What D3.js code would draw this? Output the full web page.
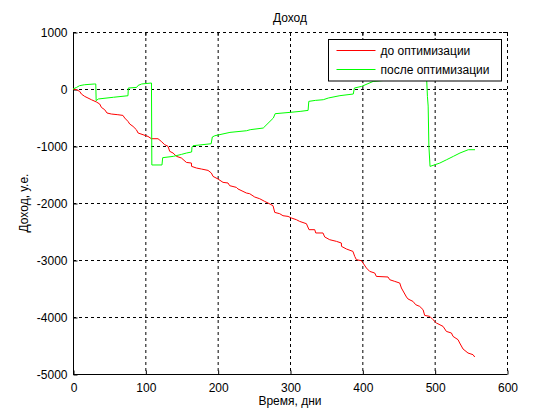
<!DOCTYPE html>
<html>
<head>
<meta charset="utf-8">
<script src="https://cdn.jsdelivr.net/npm/d3@7"></script>
<style>
  body { margin: 0; background: #fff; }
  text { font-family: "Liberation Sans", Arial, sans-serif; font-size: 12px; fill: #000; }
</style>
</head>
<body>
<div id="chart"></div>
<script>
// days / income
const beforeDays = [0, 4.6, 9.3, 11.6, 16.2, 20.7, 25.4, 32.4, 36.9, 39.3, 43.8, 47, 53, 62, 69, 71.5, 76, 78.4, 83, 87.6, 90, 96.8, 103.7, 108.4, 117.5, 122, 126.8, 131.4, 133.7, 138.3, 143, 149.9, 156.8, 163.7, 163.9, 170.6, 177.5, 186.7, 191.3, 193.6, 200.5, 207.4, 214.3, 216.6, 225.9, 228.1, 235, 239.7, 244.3, 251.2, 258.1, 265, 269.6, 276.5, 278.9, 285.8, 290.3, 297.3, 301.9, 308.8, 313.4, 322.7, 326.3, 334.2, 335.6, 345.6, 348, 354.9, 364.2, 371, 371.2, 378, 387, 389.5, 391.8, 398.7, 401, 405.6, 410.2, 417.1, 419.4, 435.5, 437.9, 444.8, 451.7, 454, 461, 463.2, 470, 473.8, 479.3, 484, 486.2, 493.2, 497.7, 502.4, 511.6, 516.2, 523.2, 525.4, 532.3, 534.6, 539.2, 546.1, 553, 555.4];
const beforeIncome = [0, -12, -42, -88, -130, -158, -188, -228, -263, -323, -363, -421, -439, -451, -463, -509, -568, -614, -656, -714, -772, -802, -832, -872, -872, -919, -977, -1006, -1094, -1123, -1181, -1211, -1288, -1299, -1357, -1386, -1404, -1428, -1474, -1533, -1579, -1638, -1649, -1696, -1726, -1754, -1796, -1825, -1837, -1895, -1925, -1972, -2000, -2047, -2165, -2188, -2223, -2235, -2263, -2293, -2323, -2363, -2468, -2468, -2526, -2526, -2596, -2644, -2673, -2702, -2761, -2807, -2849, -2937, -2995, -3012, -3053, -3140, -3200, -3228, -3288, -3298, -3346, -3375, -3404, -3491, -3649, -3684, -3726, -3784, -3814, -3872, -3972, -3989, -4047, -4105, -4165, -4253, -4281, -4340, -4398, -4456, -4561, -4632, -4661, -4702];

const afterDays = [0, 5, 9, 16, 30, 31.5, 32, 35, 56, 76, 76.5, 88, 90, 95, 108.5, 109, 123, 124, 138.6, 150, 157, 164, 164.5, 166, 191, 192.6, 196, 217, 240, 245, 263, 277, 279.5, 300, 314, 325, 326, 335, 346, 353, 369, 387.5, 389, 399, 415, 430, 450, 470, 488, 489, 490, 491, 492, 493.6, 500.5, 507, 516.6, 525.8, 535, 546.5, 555.8];
const afterIncome = [0, 28, 58, 75, 88, 88, -205, -175, -145, -118, 17, 28, 63, 88, 105, -1333, -1333, -1205, -1182, -1147, -1123, -1105, -1018, -995, -960, -842, -820, -761, -732, -714, -685, -509, -433, -410, -393, -375, -217, -200, -188, -158, -117, -88, 17, 46, 133, 150, 165, 180, 190, 150, -130, -300, -1000, -1358, -1328, -1300, -1240, -1182, -1123, -1065, -1065];

const xTicks = [0, 100, 200, 300, 400, 500, 600];
const yTicks = [1000, 0, -1000, -2000, -3000, -4000, -5000];
const seriesNames = ["до оптимизации", "после оптимизации"];
const seriesColors = ["#ff0000", "#00ff00"];

const svg = d3.select("#chart")
    .append("svg")
    .attr("width", 560)
    .attr("height", 420)

const mLeft = 73, mTop = 32, w = 434, h = 342

const x = d3.scaleLinear().domain([0, 600]).range([mLeft, mLeft + w])
const y = d3.scaleLinear().domain([-5000, 1000]).range([mTop + h, mTop])

// grid
svg.append("g").selectAll("line")
    .data(xTicks.filter(d => d > 0))
    .enter().append("line")
    .attr("x1", d => x(d) + 0.5).attr("x2", d => x(d) + 0.5)
    .attr("y1", mTop).attr("y2", mTop + h)
    .attr("stroke", "#000").attr("stroke-dasharray", "3,3")

svg.append("g").selectAll("line")
    .data(yTicks.filter(d => d > -5000))
    .enter().append("line")
    .attr("y1", d => y(d) + 0.5).attr("y2", d => y(d) + 0.5)
    .attr("x1", mLeft).attr("x2", mLeft + w)
    .attr("stroke", "#000").attr("stroke-dasharray", "3,3")

// small inner ticks on top and right
svg.append("g").selectAll("line")
    .data(xTicks)
    .enter().append("line")
    .attr("x1", d => x(d) + 0.5).attr("x2", d => x(d) + 0.5)
    .attr("y1", mTop).attr("y2", mTop + 4)
    .attr("stroke", "#000")

svg.append("g").selectAll("line")
    .data(yTicks)
    .enter().append("line")
    .attr("y1", d => y(d) + 0.5).attr("y2", d => y(d) + 0.5)
    .attr("x1", mLeft + w).attr("x2", mLeft + w - 4)
    .attr("stroke", "#000")

// axes
const xAxisCall = d3.axisBottom(x).tickValues(xTicks).tickFormat(d => String(d))
    .tickSizeInner(-4).tickSizeOuter(0).tickPadding(9)
svg.append("g")
    .attr("class", "x axis")
    .attr("transform", `translate(0.5, ${mTop + h + 0.5})`)
    .call(xAxisCall)
    .call(g => g.select(".domain").attr("d", `M${mLeft - 0.5},0H${mLeft + w}`))

const yAxisCall = d3.axisLeft(y).tickValues(yTicks).tickFormat(d => String(d))
    .tickSizeInner(-4).tickSizeOuter(0).tickPadding(6)
svg.append("g")
    .attr("class", "y axis")
    .attr("transform", `translate(${mLeft + 0.5}, 0.5)`)
    .call(yAxisCall)
    .call(g => g.select(".domain").attr("d", `M0,${mTop}V${mTop + h}`))

svg.selectAll(".axis text")
    .style("font-family", '"Liberation Sans", Arial, sans-serif')
    .style("font-size", "12px")
svg.selectAll(".axis line, .axis path").attr("stroke", "#000")

// lines
const line = d3.line().x(d => x(d[0])).y(d => y(d[1]))
const series = [
    d3.zip(beforeDays, beforeIncome),
    d3.zip(afterDays, afterIncome)
]

svg.selectAll("path.series")
    .data(series)
    .enter().append("path")
    .attr("class", "series")
    .attr("d", line)
    .attr("fill", "none")
    .attr("stroke", (d, i) => seriesColors[i])
    .attr("stroke-width", 1)

// labels
svg.append("text").attr("x", 290).attr("y", 22).attr("text-anchor", "middle").text("Доход")
svg.append("text").attr("x", 290).attr("y", 405).attr("text-anchor", "middle").text("Время, дни")
svg.append("text")
    .attr("transform", "translate(28, 203) rotate(-90)")
    .attr("text-anchor", "middle")
    .text("Доход, у.е.")

// legend
const lg = svg.append("g").attr("transform", "translate(328.5, 39.5)")
lg.append("rect").attr("width", 173).attr("height", 41.5)
    .attr("fill", "#fff").attr("stroke", "#000")
seriesNames.forEach((name, i) => {
    lg.append("line")
        .attr("x1", 8).attr("x2", 47)
        .attr("y1", 11 + i * 19).attr("y2", 11 + i * 19)
        .attr("stroke", seriesColors[i])
    lg.append("text").attr("x", 52).attr("y", 15.5 + i * 19).text(name)
})
</script>
</body>
</html>
